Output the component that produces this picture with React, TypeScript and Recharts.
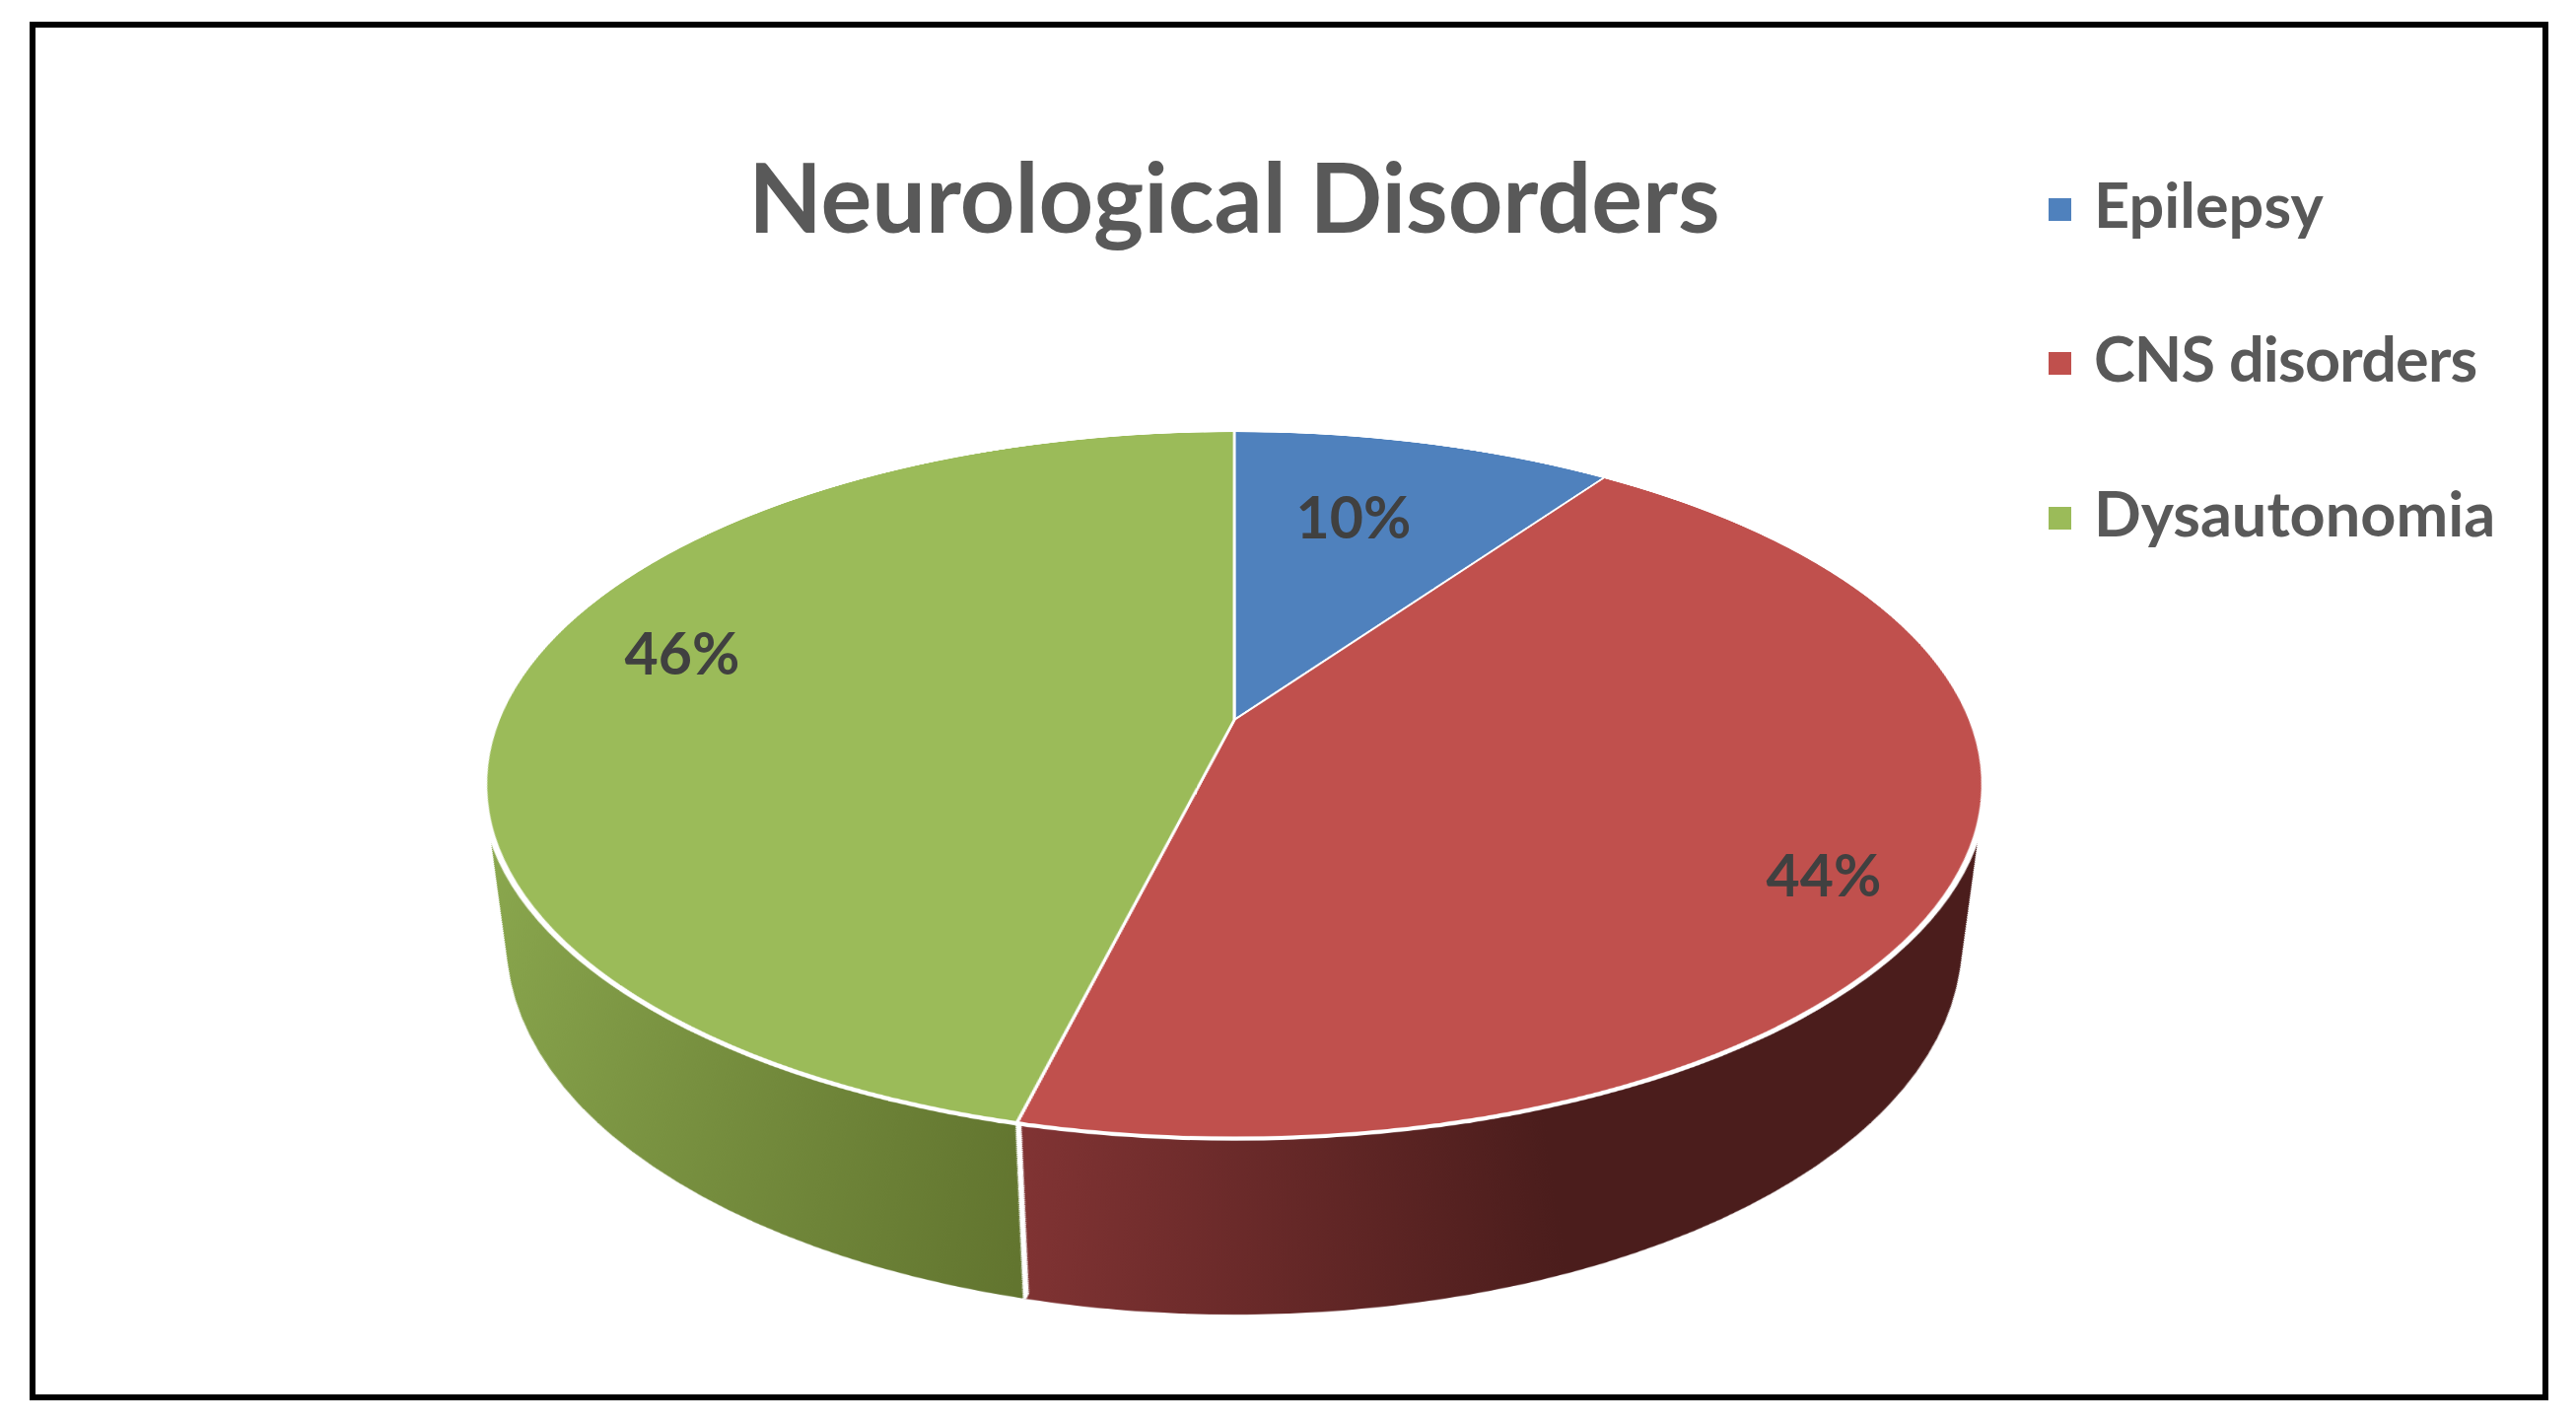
import React from "react";
import { PieChart, Pie, Cell } from "recharts";

const categories = ["Epilepsy", "CNS disorders", "Dysautonomia"];
const values = [9.8, 44.1, 46.1];
const percentLabels = ["10%", "44%", "46%"];
const topColors = ["#4f81bd", "#c0504d", "#9bbb59"];
const wallFills = ["#2f4d71", "url(#wallRed)", "url(#wallGreen)"];

const data = categories.map((name, i) => ({ name, value: values[i] }));
const total = values.reduce((a, b) => a + b, 0);

// one flat chart under a perspective tilt; the side wall is a stack of discs
// projected onto the top plane (each one a bit smaller and further down)
const CHART_W = 1600;
const CHART_H = 2000;
const CX = 800;
const CY = 800;
const RADIUS = 747;
const DEPTH = 184;
const STEP = 2;
const EYE_Y = 3197;
const EYE_Z = 1671;

const wallDiscs: { z: number; cy: number; r: number }[] = [];
for (let z = DEPTH; z > 0; z -= STEP) {
  const t = EYE_Z / (EYE_Z + z);
  wallDiscs.push({ z, cy: CY + EYE_Y * (1 - t), r: RADIUS * t - 0.02 * z });
}

// seam where red meets green on the front of the wall
const seamAngle = 90 - (360 * (values[0] + values[1])) / total;

const labelSpots = [
  { left: 1373, top: 524 },
  { left: 1850, top: 887 },
  { left: 692, top: 662 },
];
const legendRows = [212, 368, 525];
const legendSpacing = [0, -0.8, 0];

const font = "Lato, 'Open Sans', sans-serif";

export default function App() {
  return (
    <div style={{ position: "absolute", left: 0, top: 0, width: 2613, height: 1443, background: "#fff", overflow: "hidden", fontFamily: font, fontWeight: 700 }}>
      <div style={{ position: "absolute", left: 30, top: 22, width: 2555, height: 1398, border: "6px solid #000", boxSizing: "border-box" }} />

      <div
        style={{
          position: "absolute",
          left: 1252 - CX,
          top: 730 - CY,
          width: CHART_W,
          height: CHART_H,
          transformOrigin: `${CX}px ${CY}px`,
          transform: "perspective(3608px) rotateX(62.4deg)",
        }}
      >
        <PieChart width={CHART_W} height={CHART_H} margin={{ top: 0, right: 0, bottom: 0, left: 0 }}>
          <defs>
            <linearGradient id="wallGreen" gradientUnits="userSpaceOnUse" x1={54} y1={0} x2={630} y2={0}>
              <stop offset="0%" stopColor="#8dab50" />
              <stop offset="100%" stopColor="#62752f" />
            </linearGradient>
            <linearGradient id="wallRed" gradientUnits="userSpaceOnUse" x1={630} y1={0} x2={1060} y2={0}>
              <stop offset="0%" stopColor="#803333" />
              <stop offset="100%" stopColor="#4b1d1c" />
            </linearGradient>
          </defs>

          {wallDiscs.map((d) => (
            <Pie
              key={d.z}
              data={data}
              dataKey="value"
              cx={CX}
              cy={d.cy}
              outerRadius={d.r}
              startAngle={90}
              endAngle={-270}
              stroke="none"
              isAnimationActive={false}
            >
              {data.map((row, i) => (
                <Cell key={row.name} fill={wallFills[i]} />
              ))}
            </Pie>
          ))}

          {wallDiscs.map((d) => (
            <Pie
              key={`seam-${d.z}`}
              data={[{ value: 1 }]}
              dataKey="value"
              cx={CX}
              cy={d.cy}
              innerRadius={d.r - 8}
              outerRadius={d.r}
              startAngle={seamAngle + 0.13}
              endAngle={seamAngle - 0.13}
              fill="#ffffff"
              stroke="none"
              isAnimationActive={false}
            />
          ))}

          <Pie
            data={data}
            dataKey="value"
            cx={CX}
            cy={CY}
            outerRadius={RADIUS + 1}
            startAngle={90}
            endAngle={-270}
            stroke="#ffffff"
            strokeWidth={3}
            isAnimationActive={false}
          >
            {data.map((row, i) => (
              <Cell key={row.name} fill={topColors[i]} />
            ))}
          </Pie>
          <Pie
            data={[{ value: 1 }]}
            dataKey="value"
            cx={CX}
            cy={CY}
            innerRadius={RADIUS - 2}
            outerRadius={RADIUS + 4}
            startAngle={90}
            endAngle={-270}
            fill="#ffffff"
            stroke="none"
            isAnimationActive={false}
          />
        </PieChart>
      </div>

      <div style={{ position: "absolute", left: 0, width: 2504, top: 139, lineHeight: "120px", textAlign: "center", fontSize: 97, color: "#595959" }}>
        Neurological Disorders
      </div>

      {categories.map((name, i) => (
        <React.Fragment key={name}>
          <div style={{ position: "absolute", left: 2078, top: legendRows[i] - 11, width: 23, height: 23, background: topColors[i] }} />
          <div style={{ position: "absolute", left: 2124, top: legendRows[i] - 45, lineHeight: "80px", fontSize: 63, letterSpacing: legendSpacing[i], color: "#595959", whiteSpace: "nowrap" }}>
            {name}
          </div>
        </React.Fragment>
      ))}

      {percentLabels.map((t, i) => (
        <div
          key={t}
          style={{ position: "absolute", left: labelSpots[i].left - 100, top: labelSpots[i].top - 40, width: 200, lineHeight: "80px", textAlign: "center", fontSize: 59, color: "#404040" }}
        >
          {t}
        </div>
      ))}
    </div>
  );
}
